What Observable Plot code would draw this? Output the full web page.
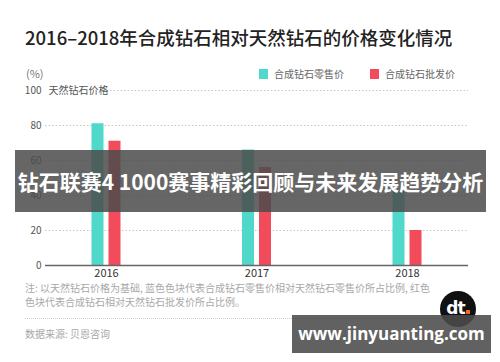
<!DOCTYPE html>
<html>
<head>
<meta charset="utf-8">
<script src="https://cdn.jsdelivr.net/npm/d3@7"></script>
<script src="https://cdn.jsdelivr.net/npm/@observablehq/plot@0.6"></script>
<style>
  html, body { margin: 0; padding: 0; background: #fff; }
  body { width: 500px; height: 362px; position: relative; overflow: hidden; font-family: "Noto Sans CJK SC", "Noto Sans", sans-serif; }
  .abs { position: absolute; white-space: nowrap; }
  #title { left: 25px; top: 27px; font-size: 18.5px; line-height: 20px; font-weight: 500; color: #222; }
  #chart { position: absolute; left: 0; top: 60px; }
  .leg { font-size: 10px; line-height: 12px; color: #666; }
  .sw { width: 9px; height: 10px; }
  .note { left: 25px; font-size: 10px; line-height: 12px; color: #a8a8a8; }
  #banner { left: 15px; top: 150px; width: 471px; height: 62px; background: rgba(75,75,75,0.85); color: #fff; font-weight: 700; font-size: 21px; line-height: 62px; text-align: center; overflow: visible; }
  #wm { left: 292px; top: 315px; width: 199px; height: 38px; background: rgba(75,75,75,0.88); color: #fff; font-weight: 700; font-size: 17px; line-height: 38px; text-align: center; font-family: "Open Sans", "DejaVu Sans", sans-serif; }
  #logo { left: 440px; top: 291px; width: 36px; height: 36px; border-radius: 50%; background: #111; color: #fff; font-family: "DejaVu Sans", sans-serif; font-weight: 700; font-size: 17px; line-height: 34px; text-align: center; letter-spacing: -1px; }
  #logo span { display: inline-block; width: 4px; height: 4px; background: #f26b21; margin-left: 1px; vertical-align: baseline; }
</style>
</head>
<body>
<div id="title" class="abs"></div>
<div id="pct" class="abs" style="left:26px; top:67px; font-size:11px; line-height:13px; color:#777;">(%)</div>
<div id="legend"></div>
<div id="chart"></div>
<div id="notes"></div>
<div class="abs" style="left:25px; top:318px; width:443px; border-top:1px dotted #c8c8c8;"></div>
<div id="logo" class="abs">dt<span></span></div>
<div id="banner" class="abs"></div>
<div id="wm" class="abs">www.jinyuanting.com</div>
<script>
// ---- data ----
const titleText = "2016–2018年合成钻石相对天然钻石的价格变化情况";
const years = ["2016", "2017", "2018"];
const retail = [81, 66, 43];      // 合成钻石零售价 (% of natural)
const wholesale = [71, 56, 20];   // 合成钻石批发价 (% of natural)
const seriesNames = ["合成钻石零售价", "合成钻石批发价"];
const seriesColors = ["#50d8cb", "#f24c5c"];
const yTicks = [0, 20, 40, 60, 80, 100];
const baseLabel = "天然钻石价格";
const noteLines = [
  "注: 以天然钻石价格为基础, 蓝色色块代表合成钻石零售价相对天然钻石零售价所占比例, 红色",
  "色块代表合成钻石相对天然钻石批发价所占比例。"
];
const sourceText = "数据来源: 贝恩咨询";
const bannerText = "钻石联赛4 1000赛事精彩回顾与未来发展趋势分析";

document.getElementById("title").textContent = titleText;
document.getElementById("banner").textContent = bannerText;

// legend
const legend = document.getElementById("legend");
const legPos = [259, 370];
seriesNames.forEach((name, i) => {
  const sw = document.createElement("div");
  sw.className = "abs sw";
  sw.style.left = legPos[i] + "px";
  sw.style.top = "69px";
  sw.style.background = seriesColors[i];
  legend.appendChild(sw);
  const t = document.createElement("div");
  t.className = "abs leg";
  t.style.left = (legPos[i] + 15) + "px";
  t.style.top = "68px";
  t.textContent = name;
  legend.appendChild(t);
});

// notes
const notes = document.getElementById("notes");
noteLines.forEach((line, i) => {
  const d = document.createElement("div");
  d.className = "abs note";
  d.style.top = (282 + i * 14) + "px";
  d.textContent = line;
  notes.appendChild(d);
});
const src = document.createElement("div");
src.className = "abs note";
src.style.top = "328px";
src.textContent = sourceText;
notes.appendChild(src);

// chart
const data = years.map((y, i) => ({year: y, retail: retail[i], wholesale: wholesale[i]}));

const plot = Plot.plot({
  width: 500,
  height: 230,
  marginLeft: 45,
  marginRight: 32,
  marginTop: 30,
  marginBottom: 25,
  style: {fontFamily: "'Noto Sans CJK SC', 'Noto Sans', sans-serif", background: "transparent", overflow: "visible"},
  x: {type: "band", domain: years, paddingInner: 0.6744, paddingOuter: 0.2425, round: false, label: null},
  y: {domain: [0, 100], label: null},
  marks: [
    Plot.ruleY(yTicks.filter(d => d > 0 && d < 100), {stroke: "#c4c4c4", strokeDasharray: "1.5,2"}),
    Plot.ruleY([100], {stroke: "#c4c4c4", strokeDasharray: "1.5,2", insetLeft: 65}),
    Plot.barY(data, {x: "year", y: "retail", fill: seriesColors[0], insetLeft: 10, insetRight: 27}),
    Plot.barY(data, {x: "year", y: "wholesale", fill: seriesColors[1], insetLeft: 27, insetRight: 10}),
    Plot.ruleY([0], {stroke: "#666", strokeWidth: 1.3}),
    Plot.axisY({ticks: yTicks, tickSize: 0, tickPadding: 4, fontSize: 10, fill: "#555", label: null}),
    Plot.axisX({tickSize: 0, tickPadding: 4, fontSize: 11, fill: "#333", label: null}),
    Plot.text([{label: baseLabel, v: 100}], {y: "v", text: "label", frameAnchor: "left", textAnchor: "start", dx: 3, fontSize: 10, fill: "#555"})
  ]
});
document.getElementById("chart").appendChild(plot);
</script>
</body>
</html>
